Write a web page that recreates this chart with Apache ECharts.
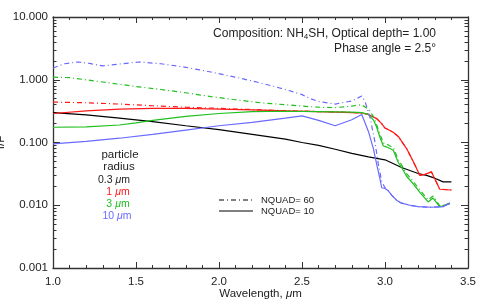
<!DOCTYPE html>
<html><head><meta charset="utf-8">
<script src="https://cdn.jsdelivr.net/npm/echarts@6/dist/echarts.min.js"></script>
<style>html,body{margin:0;padding:0;background:#fff}#c{width:485px;height:303px}</style>
</head><body><div id="c"></div>
<script>
// ---- data ----
const xTicks = [1.0, 1.5, 2.0, 2.5, 3.0, 3.5];
const yTicks = [0.001, 0.01, 0.1, 1, 10];

// 0.3 um (black), NQUAD=10
const wlBlack = [1.0,1.2,1.4,1.6,1.8,2.0,2.2,2.4,2.5,2.6,2.7,2.8,2.9,3.0,3.1,3.2,3.25,3.3,3.35,3.4];
const black10 = [0.30,0.275,0.245,0.215,0.185,0.16,0.135,0.113,0.100,0.090,0.078,0.067,0.059,0.053,0.040,0.032,0.030,0.027,0.0236,0.0236];

// 1 um (red)
const wlRed = [1.0,1.2,1.4,1.6,1.8,2.0,2.2,2.4,2.6,2.8,2.86,2.9,2.95,2.98,3.0,3.03,3.05,3.08,3.13,3.17,3.21,3.24,3.28,3.33,3.4];
const red10 = [0.29,0.32,0.34,0.35,0.35,0.34,0.33,0.32,0.31,0.30,0.295,0.28,0.24,0.20,0.17,0.155,0.145,0.125,0.08,0.05,0.030,0.031,0.034,0.018,0.0175];
const red60 = [0.44,0.43,0.41,0.385,0.365,0.35,0.335,0.322,0.311,0.301,0.295,0.28,0.24,0.20,0.17,0.155,0.145,0.125,0.08,0.05,0.030,0.031,0.034,0.018,0.0175];

// 3 um (green)
const wlGreen = [1.0,1.2,1.4,1.5,1.6,1.8,2.0,2.2,2.4,2.6,2.8,2.86,2.9,2.93,2.95,2.97,2.99,3.01,3.03,3.05,3.08,3.1,3.13,3.17,3.21,3.26,3.29,3.33,3.39];
const green10 = [0.175,0.178,0.19,0.205,0.225,0.26,0.29,0.31,0.315,0.31,0.305,0.30,0.28,0.23,0.175,0.12,0.088,0.085,0.08,0.075,0.048,0.04,0.029,0.022,0.016,0.0113,0.013,0.0094,0.0108];
const wlGreen60 = [1.0,1.1,1.3,1.5,1.65,1.8,1.95,2.1,2.25,2.4,2.5,2.6,2.7,2.8,2.86,2.9,2.93,2.95,2.97,2.99,3.01,3.03,3.05,3.08,3.1,3.13,3.17,3.21,3.26,3.29,3.33,3.39];
const green60 = [1.10,1.08,0.92,0.78,0.70,0.62,0.54,0.48,0.43,0.40,0.38,0.365,0.36,0.38,0.40,0.34,0.26,0.19,0.135,0.098,0.095,0.088,0.083,0.053,0.044,0.032,0.024,0.0175,0.0122,0.014,0.0098,0.0105];

// 10 um (blue)
const wlBlue = [1.0,1.2,1.4,1.6,1.8,2.0,2.2,2.4,2.5,2.55,2.6,2.7,2.8,2.86,2.9,2.93,2.95,2.97,2.98,3.0,3.02,3.04,3.07,3.1,3.15,3.2,3.28,3.35,3.39];
const blue10 = [0.095,0.104,0.117,0.135,0.158,0.185,0.21,0.245,0.265,0.245,0.225,0.185,0.23,0.28,0.15,0.08,0.045,0.026,0.019,0.0185,0.017,0.0145,0.012,0.0108,0.0100,0.0095,0.0093,0.0095,0.0108];
const wlBlue60 = [1.0,1.07,1.15,1.22,1.3,1.4,1.52,1.65,1.8,1.95,2.1,2.25,2.4,2.5,2.55,2.6,2.7,2.8,2.86,2.88,2.91,2.94,2.96,2.98,3.0,3.02,3.04,3.07,3.1,3.15,3.2,3.28,3.35,3.39];
const blue60 = [1.54,1.8,1.92,1.82,1.66,1.78,1.92,1.8,1.58,1.33,1.1,0.89,0.70,0.58,0.50,0.45,0.41,0.46,0.55,0.45,0.25,0.10,0.045,0.024,0.019,0.017,0.0145,0.012,0.0108,0.0100,0.0095,0.0093,0.0095,0.0108];

// ---- chart ----
const zip = (xs, ys) => xs.map((x, i) => [x, ys[i]]);
const FONT = 'Liberation Sans';
const AX = '#333';
const TXT = '#222';
const C_RED = '#ff1a1a', C_GREEN = '#1fbf1f', C_BLUE = '#6a6aff', C_BLACK = '#000';
const DASHDOT = [5, 3, 1, 3];

const minorLog = [];
for (let d = -3; d < 1; d++) for (let k = 2; k <= 9; k++) minorLog.push(d + Math.log10(k));
const majorLog = yTicks.map(v => Math.log10(v));

function line(name, xs, ys, color, dash) {
  return { name, type: 'line', data: zip(xs, ys), showSymbol: false, symbol: 'none',
    lineStyle: { color, width: 1.2, type: dash ? DASHDOT : 'solid' }, itemStyle: { color },
    animation: false, z: 3 };
}
const axLine = { show: true, onZero: false, lineStyle: { color: AX, width: 1.3 } };
const noLine = { show: false, onZero: false };

const chart = echarts.init(document.getElementById('c'), null, { renderer: 'canvas' });
chart.setOption({
  animation: false,
  grid: { left: 53, right: 17, top: 17, bottom: 35, containLabel: false, outerBoundsMode: 'none' },
  textStyle: { fontFamily: FONT },
  xAxis: [
    { type: 'value', min: 1.0, max: 3.5, interval: 0.5, position: 'bottom',
      axisLine: axLine,
      axisTick: { show: true, inside: true, length: 6, lineStyle: { color: AX } },
      minorTick: { show: true, splitNumber: 5, length: 3, lineStyle: { color: AX } },
      splitLine: { show: false },
      axisLabel: { fontFamily: FONT, fontSize: 11.5, color: TXT, margin: 8,
        customValues: xTicks, formatter: v => v.toFixed(1) },
      name: 'Wavelength, {mu|μ}m', nameLocation: 'middle', nameGap: 20, nameMoveOverlap: false,
      nameTextStyle: { fontFamily: FONT, fontSize: 11.5, color: TXT,
        rich: { mu: { fontFamily: FONT, fontSize: 11.5, fontStyle: 'italic', color: TXT } } } },
    { type: 'value', min: 1.0, max: 3.5, interval: 0.5, position: 'top',
      axisLine: axLine,
      axisTick: { show: true, inside: true, length: 6, lineStyle: { color: AX } },
      minorTick: { show: true, splitNumber: 5, length: 3, lineStyle: { color: AX } },
      splitLine: { show: false }, axisLabel: { show: false } }
  ],
  yAxis: [
    { type: 'log', logBase: 10, min: 0.001, max: 10, position: 'left',
      axisLine: axLine,
      axisTick: { show: true, inside: true, length: 7, lineStyle: { color: AX } },
      splitLine: { show: false },
      axisLabel: { fontFamily: FONT, fontSize: 11.5, color: TXT, margin: 5,
        formatter: v => Number(v).toFixed(3) },
      name: 'I/F', nameLocation: 'middle', nameRotate: 90, nameGap: 46, nameMoveOverlap: false,
      nameTextStyle: { fontFamily: FONT, fontSize: 11.5, color: TXT } },
    { type: 'value', min: -3, max: 1, position: 'left',
      axisLine: noLine, splitLine: { show: false }, axisLabel: { show: false },
      axisTick: { show: true, inside: true, length: 3.5, customValues: minorLog, lineStyle: { color: AX } } },
    { type: 'value', min: -3, max: 1, position: 'right',
      axisLine: axLine,
      splitLine: { show: false }, axisLabel: { show: false },
      axisTick: { show: true, inside: true, length: 7, customValues: majorLog, lineStyle: { color: AX } } },
    { type: 'value', min: -3, max: 1, position: 'right',
      axisLine: noLine, splitLine: { show: false }, axisLabel: { show: false },
      axisTick: { show: true, inside: true, length: 3.5, customValues: minorLog, lineStyle: { color: AX } } }
  ],
  series: [
    line('0.3 μm N10', wlBlack, black10, C_BLACK, false),
    line('1 μm N60', wlRed, red60, C_RED, true),
    line('1 μm N10', wlRed, red10, C_RED, false),
    line('3 μm N60', wlGreen60, green60, C_GREEN, true),
    line('3 μm N10', wlGreen, green10, C_GREEN, false),
    line('10 μm N60', wlBlue60, blue60, C_BLUE, true),
    line('10 μm N10', wlBlue, blue10, C_BLUE, false)
  ],
  graphic: [
    { type: 'text', right: 49, top: 28, style: {
      text: 'Composition: NH{sub|4}SH, Optical depth= 1.00', fill: TXT, font: '12px ' + FONT,
      rich: { sub: { fontSize: 8, fontFamily: FONT, fill: TXT, verticalAlign: 'bottom', padding: [5, 0, 0, 0] } } } },
    { type: 'text', right: 49, top: 43, style: { text: 'Phase angle = 2.5°', fill: TXT, font: '12px ' + FONT } },
    { type: 'text', x: 120, y: 155, style: { text: 'particle', fill: TXT, font: '11.5px ' + FONT, align: 'center', verticalAlign: 'middle' } },
    { type: 'text', x: 119, y: 167, style: { text: 'radius', fill: TXT, font: '11.5px ' + FONT, align: 'center', verticalAlign: 'middle' } },
    { type: 'text', x: 114, y: 180, style: { text: '0.3 {mu|μ}m', fill: TXT, font: '10.5px ' + FONT, align: 'center', verticalAlign: 'middle',
      rich: { mu: { fontStyle: 'italic', fontSize: 10.5, fontFamily: FONT, fill: TXT } } } },
    { type: 'text', x: 118, y: 192, style: { text: '1 {mu|μ}m', fill: C_RED, font: '10.5px ' + FONT, align: 'center', verticalAlign: 'middle',
      rich: { mu: { fontStyle: 'italic', fontSize: 10.5, fontFamily: FONT, fill: C_RED } } } },
    { type: 'text', x: 118, y: 204, style: { text: '3 {mu|μ}m', fill: C_GREEN, font: '10.5px ' + FONT, align: 'center', verticalAlign: 'middle',
      rich: { mu: { fontStyle: 'italic', fontSize: 10.5, fontFamily: FONT, fill: C_GREEN } } } },
    { type: 'text', x: 117, y: 216, style: { text: '10 {mu|μ}m', fill: C_BLUE, font: '10.5px ' + FONT, align: 'center', verticalAlign: 'middle',
      rich: { mu: { fontStyle: 'italic', fontSize: 10.5, fontFamily: FONT, fill: C_BLUE } } } },
    // NQUAD key
    { type: 'line', shape: { x1: 219, y1: 200, x2: 253, y2: 200 }, style: { stroke: '#000', lineWidth: 1, lineDash: DASHDOT } },
    { type: 'line', shape: { x1: 219, y1: 211, x2: 253, y2: 211 }, style: { stroke: '#000', lineWidth: 1 } },
    { type: 'text', x: 261, y: 200, style: { text: 'NQUAD= 60', fill: TXT, font: '9.5px ' + FONT, verticalAlign: 'middle' } },
    { type: 'text', x: 261, y: 211, style: { text: 'NQUAD= 10', fill: TXT, font: '9.5px ' + FONT, verticalAlign: 'middle' } }
  ]
});
</script></body></html>
